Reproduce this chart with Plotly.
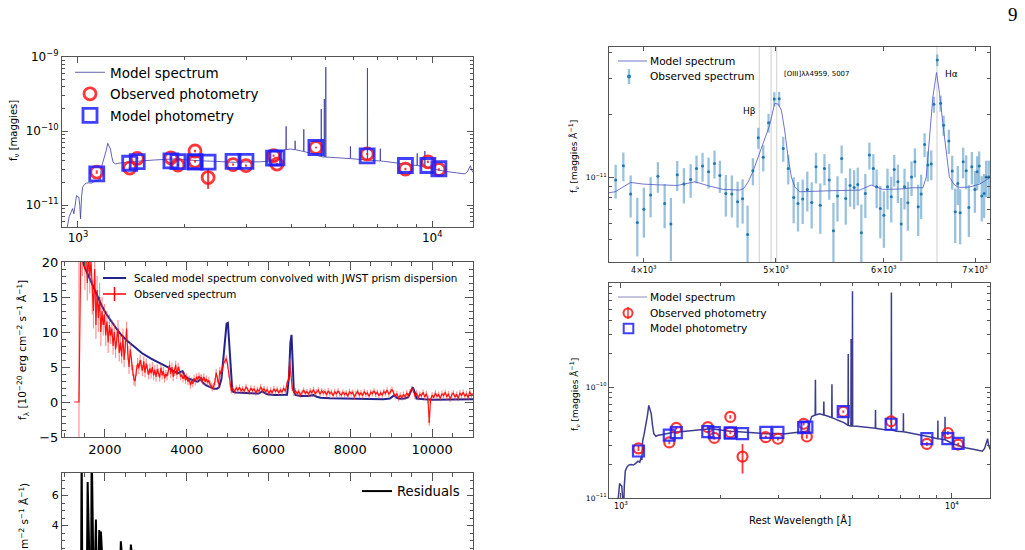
import math
import plotly.graph_objects as go

W, H = 1025, 550
FONT = "DejaVu Sans"
AX = "#555555"

# ---------------- data ----------------
# model spectrum (rest wavelength [A], f_nu [1e-11 maggies])
model_wave = [912, 933, 945, 958, 966, 974, 983, 991, 1000, 1006, 1012, 1017, 1024, 1031, 1043, 1055, 1072, 1090,
              1108, 1126, 1140, 1151, 1157, 1163, 1176, 1189, 1202, 1214, 1225, 1235, 1246, 1257, 1275, 1296, 1350,
              1443, 1540, 1643, 1750, 1870, 2000, 2128, 2270, 2423, 2590, 2757, 2950, 3139, 3280, 3421, 3550, 3650,
              3700, 3771, 3862, 3869, 3876, 3980, 4095, 4102, 4109, 4246, 4333, 4340, 4347, 4529, 4700, 4833, 4854,
              4861, 4868, 4952, 4959, 4966, 5000, 5007, 5014, 5156, 5500, 5869, 5876, 5883, 6200, 6556, 6563, 6570,
              6800, 7129, 7136, 7143, 7282, 7700, 8110, 8600, 9062, 9069, 9076, 9300, 9524, 9531, 9538, 10066, 10500,
              10973, 11705, 12000, 12356, 12550, 12700, 12818, 12900, 13040, 13200]
model_flux = [0.45, 0.506, 0.7, 0.847, 0.9, 0.764, 1.1, 1.35, 1.3, 1.28, 1.0, 0.655, 1.3, 1.75, 1.9, 1.98, 2.0, 1.98,
              2.05, 2.15, 2.1, 2.33, 2.2, 3.24, 3.8, 4.42, 5.5, 6.83, 6.3, 5.73, 4.5, 3.79, 3.6, 3.67, 3.75, 3.91,
              3.98, 4.07, 4.1, 4.2, 4.1, 3.99, 3.95, 3.91, 3.85, 3.79, 3.82, 3.79, 3.85, 3.91, 3.95, 3.99, 4.6, 5.43,
              5.6, 11.6, 5.6, 5.73, 5.6, 7.4, 5.6, 5.43, 5.3, 10.6, 5.3, 5.01, 4.8, 4.55, 4.5, 19.8, 4.5, 4.45, 27.0,
              4.45, 4.45, 73.0, 4.45, 4.42, 4.35, 4.25, 6.2, 4.25, 4.15, 4.1, 71.0, 4.1, 4.0, 3.95, 5.8, 3.95, 3.91,
              3.8, 3.67, 3.55, 3.42, 5.0, 3.42, 3.38, 3.35, 5.4, 3.35, 3.08, 2.95, 2.84, 2.73, 2.7, 2.64, 2.8, 3.2,
              3.42, 3.0, 2.77, 2.7]

# photometry (rest wavelength [A], f_nu [1e-11 maggies])
phot_wave = [1130, 1400, 1470, 1830, 1915, 2140, 2140, 2330, 2740, 2980, 3565, 3645, 4695, 6550, 8400, 9720, 10440]
phot_obs = [2.8, 3.17, 4.28, 4.35, 3.48, 5.38, 3.91, 2.36, 3.53, 3.42, 4.66, 3.58, 6.0, 4.91, 3.07, 3.85, 3.03]
phot_err = [0.15, 0.12, 0.15, 0.15, 0.12, 0.2, 0.15, 0.7, 0.12, 0.12, 0.15, 0.15, 0.15, 0.15, 0.12, 0.15, 0.12]
phot_model = [2.65, 3.68, 3.88, 3.96, 3.88, 3.85, 3.85, 3.8, 3.9, 3.9, 4.3, 4.35, 6.0, 4.62, 3.43, 3.43, 3.1]

# convolved model spectrum (f_lambda [1e-20 erg/cm2/s/A])
conv_wave = [1465, 1520, 1586, 1650, 1748, 1830, 1911, 2030, 2154, 2280, 2398, 2550, 2722, 2900, 3128, 3330, 3533,
             3650, 3777, 3840, 3899, 3950, 4020, 4150, 4264, 4310, 4345, 4390, 4467, 4560, 4669, 4740, 4791, 4850,
             4900, 4940, 4975, 5007, 5040, 5080, 5116, 5200, 5350, 5562, 5760, 5846, 5900, 5968, 6150, 6373, 6454,
             6500, 6535, 6563, 6590, 6620, 6660, 6779, 6950, 7103, 7180, 7266, 7500, 7996, 8400, 8807, 8970, 9069,
             9150, 9213, 9330, 9416, 9480, 9531, 9580, 9619, 9800, 10024, 10500, 11000]
conv_flux = [20.0, 19.0, 18.2, 17.3, 16.0, 14.9, 13.9, 12.6, 11.5, 10.5, 9.6, 8.7, 7.9, 7.0, 6.2, 5.6, 5.0,
             4.5, 4.1, 4.3, 4.4, 3.8, 3.4, 3.1, 2.9, 3.1, 3.3, 2.8, 2.4, 2.15, 1.9, 1.9, 2.1, 3.3,
             6.5, 9.8, 11.2, 11.3, 8.5, 4.0, 1.5, 1.35, 1.3, 1.2, 1.2, 1.5, 1.3, 1.1, 1.0, 0.96, 1.05,
             3.5, 8.5, 9.6, 6.0, 1.5, 1.0, 0.85, 0.85, 0.98, 0.75, 0.62, 0.55, 0.48, 0.42, 0.38, 0.5, 0.95,
             0.55, 0.45, 0.5, 0.7, 1.5, 2.1, 1.3, 0.5, 0.38, 0.33, 0.35, 0.38]

# observed prism spectrum (f_lambda [1e-20 erg/cm2/s/A])
spec_wave = [1250, 1366,
             1420, 1450, 1480, 1510, 1540, 1570, 1600, 1630, 1660, 1690, 1720, 1750, 1780, 1810, 1840, 1870, 1900,
             1930, 1960, 1990, 2020, 2050, 2080, 2110, 2140, 2170, 2200, 2230, 2260, 2290, 2320, 2350, 2380, 2410,
             2440, 2470, 2500, 2530, 2560, 2590, 2620, 2650, 2680, 2710, 2740, 2770, 2800, 2830, 2860, 2890, 2920,
             2950, 2980, 3010, 3040, 3070, 3100, 3130, 3160, 3190, 3220, 3250, 3280, 3310, 3340, 3370, 3400, 3430,
             3460, 3490, 3520, 3550, 3580, 3610, 3640, 3670, 3700, 3730, 3760, 3790, 3820, 3850, 3880, 3910, 3940,
             3970, 4000, 4030, 4060, 4090, 4120, 4150, 4180, 4210, 4240, 4270, 4300, 4330, 4360, 4390, 4420, 4450,
             4480, 4510, 4540, 4570, 4600, 4630, 4660, 4690, 4720, 4750, 4780, 4810, 4840, 4870, 4900, 4940, 4970,
             5000, 5030, 5060, 5090, 5130, 5170, 5210, 5250, 5290, 5330, 5370, 5410, 5450, 5490, 5530, 5570, 5610,
             5650, 5690, 5730, 5770, 5810, 5850, 5890, 5930, 5970, 6010, 6050, 6090, 6130, 6170, 6210, 6250, 6290,
             6330, 6370, 6410, 6450, 6490, 6520, 6550, 6580, 6620, 6660, 6700, 6740, 6780, 6820, 6860, 6900, 6940,
             6980, 7020, 7060, 7100, 7140, 7180, 7220, 7260, 7300, 7340, 7380, 7420, 7460, 7500, 7540, 7580, 7620,
             7660, 7700, 7740, 7780, 7820, 7860, 7900, 7940, 7980, 8020, 8060, 8100, 8140, 8180, 8220, 8260, 8300,
             8340, 8380, 8420, 8460, 8500, 8540, 8580, 8620, 8660, 8700, 8740, 8780, 8820, 8860, 8900, 8940, 8980,
             9020, 9060, 9100, 9140, 9180, 9220, 9260, 9300, 9340, 9380, 9420, 9460, 9500, 9540, 9580, 9620, 9660,
             9700, 9740, 9780, 9820, 9860, 9900, 9930, 9960, 10000, 10040, 10080, 10120, 10160, 10200, 10240, 10280,
             10320, 10360, 10400, 10440, 10480, 10520, 10560, 10600, 10640, 10680, 10720, 10760, 10800, 10840, 10880,
             10920, 10960, 11000]
spec_flux = [0.0, 0.0,
             26, 21, 24, 19, 23, 17, 21, 18, 20, 15, 13, 19, 11, 16, 12, 15, 10,
             13, 11, 12.5, 9.5, 11.5, 8.5, 11, 9.5, 10.5, 8, 10, 7.5, 9, 10.5, 7, 8.5, 6.5,
             9.5, 6, 8, 10.5, 7, 5, 7.5, 5.5, 4.5, 3.2, 3.0, 4.5, 5.5, 4.8, 6.0, 5.2, 4.5,
             5.8, 4.2, 5.5, 4.6, 3.9, 4.8, 4.1, 5.0, 3.8, 4.6, 3.6, 4.7, 4.2, 3.5, 4.9, 3.8, 4.4,
             3.4, 4.0, 3.7, 4.4, 5.3, 4.0, 5.0, 3.6, 4.3, 5.3, 3.9, 5.0, 4.5, 3.6, 3.9, 3.3, 3.8,
             3.1, 3.6, 2.9, 3.3, 2.4, 3.0, 2.6, 3.4, 2.9, 3.6, 3.2, 3.7, 3.4, 3.5, 3.0, 3.6, 2.9,
             3.3, 2.8, 3.1, 2.5, 2.3, 2.0, 2.2, 2.9, 4.2, 3.3, 2.5, 4.5, 3.9, 4.8, 5.5, 5.9, 6.2,
             5.3, 4.0, 2.5, 1.6, 1.9, 1.5, 2.0, 1.7, 2.1, 1.6, 1.9, 1.5, 2.2, 1.7, 1.4, 2.0, 1.6,
             1.9, 1.3, 1.8, 1.5, 2.2, 1.6, 1.9, 1.4, 1.8, 1.2, 1.7, 1.3, 1.9, 1.5, 1.8, 1.3, 1.7,
             1.4, 2.0, 1.5, 2.6, 3.3, 5.7, 4.0, 2.0, 1.3, 1.6, 1.2, 1.5, 1.0, 1.4, 1.7, 1.2, 1.5,
             1.1, 1.6, 1.3, 1.8, 1.2, 1.5, 1.7, 1.1, 1.6, 1.3, 1.5, 1.0, 1.6, 1.2, 1.4, 0.9, 1.5,
             1.1, 1.6, 1.2, 1.0, 1.4, 1.1, 1.3, 0.8, 1.5, 1.2, 1.4, 0.7, 1.2, 1.5, 1.0, 1.3, 0.9,
             1.5, 1.1, 1.3, 0.8, 1.4, 1.2, 1.6, 1.1, 1.4, 0.9, 1.3, 1.0, 1.5, 1.2, 1.7, 1.1, 1.5,
             1.8, 1.3, 0.8, 1.2, 0.5, 1.0, 0.6, 1.1, 0.7, 1.3, 0.9, 1.4, 1.9, 1.7, 0.8, 1.3, 0.6,
             1.1, 0.9, 1.4, 0.7, 1.2, 0.3, -3.0, 0.2, 1.0, 0.6, 1.3, 0.8, 1.1, 0.5, 1.2, 0.9,
             1.4, 0.7, 1.2, 0.4, 1.0, 1.3, 0.7, 1.1, 0.5, 1.3, 0.9, 1.4, 0.8, 1.2, 0.6,
             1.5, 0.9, 1.2]
spec_err = [0.0, 40.0,
            3, 3, 3, 3, 3, 2.5, 2.5, 2.5, 2.5, 2.5, 2.5, 2.5, 2, 2, 2, 2, 2,
            2, 1.5, 1.5, 1.5, 1.5, 1.5, 1.5, 1.2, 1.2, 1.2, 1.2, 1.2, 1.2, 1.2, 1.2, 1.2, 1,
            1, 1, 1, 1, 1, 1, 1, 1, 0.8, 0.8, 0.8, 0.8, 0.8, 0.8, 0.8, 0.8, 0.8,
            0.7, 0.7, 0.7, 0.7, 0.7, 0.7, 0.7, 0.7, 0.7, 0.7, 0.7, 0.7, 0.6, 0.6, 0.6, 0.6, 0.6,
            0.6, 0.6, 0.6, 0.6, 0.6, 0.6, 0.6, 0.6, 0.6, 0.6, 0.6, 0.6, 0.6, 0.5, 0.5, 0.5, 0.5,
            0.5, 0.5, 0.5, 0.5, 0.5, 0.5, 0.5, 0.5, 0.5, 0.5, 0.5, 0.5, 0.5, 0.5, 0.5, 0.5, 0.5,
            0.5, 0.5, 0.5, 0.5, 0.5, 0.5, 0.5, 0.5, 0.5, 0.5, 0.5, 0.5, 0.5, 0.5, 0.5, 0.5, 0.5,
            0.5, 0.5, 0.4, 0.4, 0.4, 0.4, 0.4, 0.4, 0.4, 0.4, 0.4, 0.4, 0.4, 0.4, 0.4, 0.4, 0.4,
            0.4, 0.4, 0.4, 0.4, 0.4, 0.4, 0.4, 0.4, 0.4, 0.4, 0.4, 0.4, 0.4, 0.4, 0.4, 0.4, 0.4,
            0.4, 0.4, 0.4, 0.4, 0.4, 0.5, 0.4, 0.4, 0.4, 0.4, 0.4, 0.4, 0.4, 0.4, 0.4, 0.4,
            0.4, 0.4, 0.4, 0.4, 0.4, 0.4, 0.4, 0.4, 0.4, 0.4, 0.4, 0.4, 0.4, 0.4, 0.4, 0.4, 0.4,
            0.4, 0.4, 0.4, 0.4, 0.4, 0.4, 0.4, 0.4, 0.4, 0.4, 0.4, 0.4, 0.4, 0.4, 0.4, 0.4, 0.4,
            0.4, 0.4, 0.4, 0.4, 0.4, 0.4, 0.4, 0.4, 0.4, 0.4, 0.4, 0.4, 0.4, 0.4, 0.4, 0.4, 0.4,
            0.4, 0.4, 0.4, 0.4, 0.4, 0.4, 0.4, 0.4, 0.4, 0.4, 0.4, 0.4, 0.4, 0.4, 0.4, 0.4, 0.4,
            0.4, 0.4, 0.4, 0.4, 0.4, 0.4, 0.6, 0.4, 0.4, 0.4, 0.4, 0.4, 0.4, 0.4, 0.4, 0.4,
            0.4, 0.4, 0.4, 0.4, 0.4, 0.4, 0.4, 0.4, 0.4, 0.4, 0.4, 0.4, 0.4, 0.4, 0.4,
            0.4, 0.4, 0.4]

# residuals
res_wave = [1250, 1366, 1400, 1420, 1432, 1445, 1480, 1520, 1560, 1578, 1595, 1630, 1665, 1676, 1690, 1720, 1760,
            1780, 1795, 1830, 1850, 1861, 1880, 1902, 1920, 1960, 2020, 2100, 2180, 2260, 2340, 2375, 2390, 2405,
            2450, 2520, 2600, 2620, 2634, 2650, 2720, 2850, 3000, 3200, 3500, 3800, 4200, 4600, 4900, 5000, 5100,
            5500, 6000, 6500, 6563, 6600, 7000, 8000, 9000, 9930, 10000, 11000]
res_val = [0.0, 0.0, 1.2, 2.0, 9.5, 1.5, 0.8, 1.4, 1.0, 6.9, 1.2, 0.6, 1.5, 9.5, 1.3, 0.7, 1.8,
           4.4, 1.5, 1.1, 2.0, 3.7, 2.2, 3.6, 1.0, 0.6, 1.3, 0.9, 1.2, 0.8, 1.0, 1.4, 2.95, 1.3,
           0.7, 1.1, 0.9, 1.0, 2.73, 1.0, 0.6, 0.8, 0.5, 0.7, 0.4, 0.6, 0.3, 0.5, 0.2, -1.0, 0.3,
           0.2, 0.1, 0.3, -1.5, 0.2, 0.1, 0.1, 0.1, -2.0, 0.1, 0.1]

# zoomed observed spectrum (rest wavelength [A], f_nu [1e-12 maggies/A])
zoom_model_wave = [3767, 3810, 3912, 3996, 4087, 4232, 4361, 4460, 4574, 4704, 4736, 4771, 4809, 4859, 4906, 4947,
                   4976, 4990, 5018, 5046, 5074, 5103, 5132, 5161, 5204, 5323, 5474, 5758, 5873, 5988, 6159, 6299,
                   6409, 6445, 6481, 6518, 6558, 6591, 6628, 6665, 6702, 6761, 6817, 6934, 7053, 7132, 7180]
zoom_model_flux = [8.40, 8.49, 9.42, 9.25, 9.18, 9.11, 9.49, 9.08, 8.72, 8.65, 8.82, 9.49, 10.61, 12.77, 15.09, 17.8,
                   21.07, 22.7, 22.5, 21.07, 16.87, 12.54, 10.0, 8.98, 8.49, 8.56, 8.59, 8.65, 9.15, 8.72, 8.75, 8.88,
                   8.88, 10.0, 15.09, 24.4, 32.0, 25.4, 18.2, 13.0, 10.0, 9.15, 8.91, 8.95, 9.25, 9.67, 10.0]
zoom_obs_wave = [3814, 3864, 3912, 3956, 4000, 4046, 4096, 4143, 4187, 4232, 4280, 4329, 4372, 4417, 4462, 4507,
                 4548, 4594, 4641, 4686, 4726, 4766, 4809, 4853, 4894, 4938, 4986, 5027, 5062, 5105, 5152, 5190,
                 5231, 5272, 5311, 5350, 5389, 5427, 5471, 5510, 5548, 5587, 5626, 5667, 5706, 5741, 5776, 5815,
                 5855, 5894, 5927, 5964, 6000, 6037, 6075, 6106, 6144, 6178, 6213, 6248, 6287, 6323, 6358, 6390,
                 6427, 6462, 6500, 6529, 6566, 6603, 6637, 6696, 6734, 6768, 6798, 6825, 6860, 6895, 6926, 6961,
                 6997, 7024, 7048, 7079, 7107, 7132, 7163]
zoom_obs_flux = [9.67, 11.34, 8.28, 6.04, 7.00, 8.19, 10.1, 7.46, 5.93, 10.26, 9.25, 9.74, 11.01, 11.30, 10.61, 11.64,
                 10.19, 8.34, 8.28, 7.60, 7.86, 5.28, 10.73, 15.49, 12.45, 18.30, 23.8, 23.9, 13.75, 11.01, 7.98, 7.46,
                 7.83, 8.72, 7.54, 11.22, 7.32, 11.01, 9.67, 5.50, 8.10, 12.31, 7.89, 9.1, 8.9, 9.2, 5.38, 8.34,
                 12.77, 11.01, 8.98, 7.06, 6.55, 8.98, 8.04, 10.89, 9.49, 5.93, 8.98, 7.51, 10.0, 11.86, 7.19, 8.28,
                 14.38, 11.43, 11.56, 22.44, 36.7, 22.7, 17.8, 14.93, 10.69, 6.80, 9.32, 6.73, 11.86, 10.73, 7.14, 11.22,
                 8.72, 10.61, 11.30, 8.10, 8.34, 10.0, 10.0]
zoom_obs_err = [1.8, 1.8, 1.9, 1.9, 1.9, 1.8, 1.7, 1.8, 2.0, 1.7, 1.8, 1.8, 1.7, 1.8, 1.8, 1.8,
                1.8, 1.9, 1.9, 1.9, 1.9, 2.0, 1.6, 1.8, 1.8, 1.9, 1.9, 1.9, 1.9, 1.8, 2.0, 2.0,
                1.9, 1.9, 1.9, 1.9, 2.0, 1.9, 1.9, 2.0, 2.0, 1.9, 2.0, 1.9, 1.9, 1.9, 2.0, 2.0,
                1.9, 1.9, 1.9, 2.0, 2.0, 2.0, 2.0, 1.9, 2.0, 2.0, 2.0, 2.0, 1.9, 1.9, 2.0, 2.0,
                1.9, 1.9, 1.9, 2.0, 2.4, 2.0, 2.0, 2.0, 2.0, 2.0, 2.0, 2.0, 2.0, 2.0, 2.0, 2.0,
                2.0, 2.0, 2.0, 2.0, 2.0, 2.0, 2.0]
line_waves = [4861, 4959, 5007, 6563]

SCALE_PHOT = 1e-11
SCALE_ZOOM = 1e-12


def lg(v):
    return math.log10(v)


def dom_x(a, b):
    return [a / W, b / W]


def dom_y(top, bot):
    return [max(0.0, 1 - bot / H), 1 - top / H]


def axis(**kw):
    base = dict(showline=True, linecolor=AX, linewidth=1, mirror="allticks", ticks="inside",
                tickcolor=AX, tickwidth=1, ticklen=6, showgrid=False, zeroline=False,
                tickfont=dict(family=FONT, size=11, color="black"))
    base.update(kw)
    return base


def minor(vals=None, dtick=None, ln=3):
    m = dict(ticks="inside", ticklen=ln, tickcolor=AX, tickwidth=1, showgrid=False)
    if vals is not None:
        m["tickvals"] = vals
    if dtick is not None:
        m["dtick"] = dtick
    return m


fig = go.Figure()

RED = "rgba(255,20,20,0.85)"
BLUE = "rgba(30,30,255,0.85)"
NAVY = "#23238c"
ZOOM_MODEL = "rgba(100,100,205,0.9)"
ZOOM_OBS = "rgba(31,119,180,0.45)"
E_LEG = "rgba(60,60,150,0.4)"

# ---- Panel A ----
fig.add_trace(go.Scatter(x=model_wave, y=[v * SCALE_PHOT for v in model_flux], mode="lines",
                         line=dict(color="rgba(60,60,160,0.8)", width=1), name="Model spectrum",
                         xaxis="x", yaxis="y", legend="legend", legendgroup="a1"))
fig.add_trace(go.Scatter(x=phot_wave, y=[v * SCALE_PHOT for v in phot_obs], mode="markers",
                         marker=dict(symbol="circle-open", size=12, color=RED, line=dict(width=2.8)),
                         error_y=dict(type="data", array=[v * SCALE_PHOT for v in phot_err], color=RED,
                                      thickness=2, width=0),
                         name="Observed photometry", xaxis="x", yaxis="y", legend="legend", legendgroup="a2"))
fig.add_trace(go.Scatter(x=phot_wave, y=[v * SCALE_PHOT for v in phot_model], mode="markers",
                         marker=dict(symbol="square-open", size=14, color=BLUE, line=dict(width=2.8)),
                         name="Model photometry", xaxis="x", yaxis="y", legend="legend", legendgroup="a3"))

# ---- Panel B ----
fig.add_trace(go.Scatter(x=conv_wave, y=conv_flux, mode="lines", line=dict(color=NAVY, width=2),
                         name="Scaled model spectrum convolved with JWST prism dispersion",
                         showlegend=False, xaxis="x2", yaxis="y2"))
fig.add_trace(go.Scatter(x=spec_wave, y=spec_flux, mode="lines", line=dict(color="rgba(255,0,0,0.9)", width=1.2),
                         error_y=dict(type="data", array=spec_err, color="rgba(255,60,60,0.55)", thickness=1.2,
                                      width=0),
                         name="Observed spectrum", showlegend=False, xaxis="x2", yaxis="y2"))

# ---- Panel C ----
fig.add_trace(go.Scatter(x=res_wave, y=res_val, mode="lines", line=dict(color="black", width=2),
                         name="Residuals", xaxis="x3", yaxis="y3", legend="legend3"))

# ---- Panel D ----
for lw in line_waves:
    fig.add_trace(go.Scatter(x=[lw, lw], y=[1e-13, 1e-9], mode="lines",
                             line=dict(color="rgba(175,175,175,0.75)", width=0.8),
                             showlegend=False, hoverinfo="skip", xaxis="x4", yaxis="y4"))
fig.add_trace(go.Scatter(x=zoom_model_wave, y=[v * SCALE_ZOOM for v in zoom_model_flux], mode="lines",
                         line=dict(color=ZOOM_MODEL, width=1), name="Model spectrum", showlegend=False,
                         xaxis="x4", yaxis="y4"))
fig.add_trace(go.Scatter(x=zoom_obs_wave, y=[v * SCALE_ZOOM for v in zoom_obs_flux], mode="markers",
                         marker=dict(size=3, color="#1f77b4"),
                         error_y=dict(type="data", array=[v * SCALE_ZOOM for v in zoom_obs_err],
                                      color=ZOOM_OBS, thickness=2.3, width=0),
                         name="Observed spectrum", showlegend=False, xaxis="x4", yaxis="y4"))

# ---- Panel E ----
fig.add_trace(go.Scatter(x=model_wave, y=[v * SCALE_PHOT for v in model_flux], mode="lines",
                         line=dict(color="rgba(40,40,130,0.9)", width=1.5), showlegend=False,
                         name="Model spectrum", xaxis="x5", yaxis="y5"))
fig.add_trace(go.Scatter(x=phot_wave, y=[v * SCALE_PHOT for v in phot_obs], mode="markers",
                         marker=dict(symbol="circle-open", size=10, color=RED, line=dict(width=2.2)),
                         error_y=dict(type="data", array=[v * SCALE_PHOT for v in phot_err], color=RED,
                                      thickness=1.8, width=0),
                         name="Observed photometry", showlegend=False, xaxis="x5", yaxis="y5"))
fig.add_trace(go.Scatter(x=phot_wave, y=[v * SCALE_PHOT for v in phot_model], mode="markers",
                         marker=dict(symbol="square-open", size=11, color=BLUE, line=dict(width=2.2)),
                         name="Model photometry", showlegend=False, xaxis="x5", yaxis="y5"))

# ---------------- axes ----------------
decA_minor_x = [2000, 3000, 4000, 5000, 6000, 7000, 8000, 9000]
decA_minor_y = [6e-12, 7e-12, 8e-12, 9e-12, 2e-11, 3e-11, 4e-11, 5e-11, 6e-11, 7e-11, 8e-11, 9e-11,
                2e-10, 3e-10, 4e-10, 5e-10, 6e-10, 7e-10, 8e-10, 9e-10]
decE_minor_y = [2e-11, 3e-11, 4e-11, 5e-11, 6e-11, 7e-11, 8e-11, 9e-11,
                2e-10, 3e-10, 4e-10, 5e-10, 6e-10, 7e-10, 8e-10]
D_minor_y = [5e-12, 6e-12, 7e-12, 8e-12, 9e-12, 2e-11, 3e-11, 4e-11]

small = dict(family=FONT, size=8, color="black")

fig.update_layout(
    width=W, height=H, margin=dict(l=0, r=0, t=0, b=0, autoexpand=False),
    paper_bgcolor="white", plot_bgcolor="white",
    font=dict(family=FONT, color="black"),
    xaxis=axis(type="log", domain=dom_x(62, 473), anchor="y", range=[2.955, 4.115],
               tickvals=[1e3, 1e4], ticktext=["10<sup>3</sup>", "10<sup>4</sup>"],
               tickfont=dict(family=FONT, size=12, color="black"), minor=minor(decA_minor_x)),
    yaxis=axis(type="log", domain=dom_y(57, 227), anchor="x", range=[-11.295, -9.0],
               tickvals=[1e-11, 1e-10, 1e-9],
               ticktext=["10<sup>−11</sup>", "10<sup>−10</sup>", "10<sup>−9</sup>"],
               tickfont=dict(family=FONT, size=12, color="black"), minor=minor(decA_minor_y)),
    xaxis2=axis(domain=dom_x(62, 473), anchor="y2", range=[951, 11000], tick0=0, dtick=2000, tickformat="d",
                ticklen=8, tickfont=dict(family=FONT, size=13, color="black"), minor=minor(dtick=500, ln=4)),
    yaxis2=axis(domain=dom_y(262, 437), anchor="x2", range=[-5, 20], tick0=0, dtick=5,
                ticklen=8, tickfont=dict(family=FONT, size=13, color="black"), minor=minor(dtick=1, ln=4)),
    xaxis3=dict(domain=dom_x(62, 473), anchor="y3", range=[951, 11000], side="top", showline=True,
                linecolor=AX, linewidth=1, ticks="inside", tickcolor=AX, ticklen=8, tick0=0, dtick=2000,
                showticklabels=False, showgrid=False, zeroline=False, minor=minor(dtick=500, ln=4)),
    yaxis3=axis(domain=dom_y(473, 550), anchor="x3", range=[2.37, 7.5], tick0=0, dtick=2,
                ticklen=6, tickfont=dict(family=FONT, size=11, color="black"), minor=minor(dtick=0.5, ln=3)),
    xaxis4=axis(type="log", domain=dom_x(609, 990), anchor="y4", range=[3.5765, 3.856],
                tickvals=[4000, 5000, 6000, 7000],
                ticktext=["4×10<sup>3</sup>", "5×10<sup>3</sup>", "6×10<sup>3</sup>", "7×10<sup>3</sup>"],
                ticklen=4, tickfont=small),
    yaxis4=axis(type="log", domain=dom_y(47, 262), anchor="x4", range=[-11.41, -10.372],
                tickvals=[1e-11], ticktext=["10<sup>−11</sup>"], ticklen=5,
                tickfont=dict(family=FONT, size=7.5, color="black"), minor=minor(D_minor_y, ln=3)),
    xaxis5=axis(type="log", domain=dom_x(609, 990), anchor="y5", range=[2.964, 4.115],
                tickvals=[1e3, 1e4], ticktext=["10<sup>3</sup>", "10<sup>4</sup>"], ticklen=5,
                tickfont=small, minor=minor(decA_minor_x, ln=3)),
    yaxis5=axis(type="log", domain=dom_y(283, 498), anchor="x5", range=[-11.0, -9.063],
                tickvals=[1e-11, 1e-10], ticktext=["10<sup>−11</sup>", "10<sup>−10</sup>"], ticklen=5,
                tickfont=dict(family=FONT, size=7.5, color="black"), minor=minor(decE_minor_y, ln=3)),
)

leg_common = dict(bgcolor="rgba(0,0,0,0)", borderwidth=0, xanchor="left", yanchor="top",
                  traceorder="grouped", itemwidth=30)
fig.update_layout(
    legend=dict(leg_common, x=70 / W, y=1 - 57 / H, font=dict(family=FONT, size=13.5, color="black"),
                tracegroupgap=1),
    legend3=dict(leg_common, x=357 / W, y=1 - 476 / H, font=dict(family=FONT, size=13.2, color="black")),
)

# ---------------- legend keys drawn as layout decorations (panels B, D, E) ----------------
shapes = []
ann = []


def px_line(x0, y0, x1, y1, color, width):
    shapes.append(dict(type="line", xref="paper", yref="paper", x0=x0 / W, x1=x1 / W,
                       y0=1 - y0 / H, y1=1 - y1 / H, line=dict(color=color, width=width)))


def px_box(kind, cx, cy, r, color, width):
    shapes.append(dict(type=kind, xref="paper", yref="paper", x0=(cx - r) / W, x1=(cx + r) / W,
                       y0=1 - (cy + r) / H, y1=1 - (cy - r) / H, line=dict(color=color, width=width)))


def text(t, x, y, size, angle=0, xanchor="center", family=FONT):
    ann.append(dict(text=t, x=x / W, y=1 - y / H, xref="paper", yref="paper", showarrow=False,
                    textangle=angle, font=dict(family=family, size=size, color="black"),
                    xanchor=xanchor, yanchor="middle"))


# B legend
px_line(103, 278, 126, 278, NAVY, 2)
text("Scaled model spectrum convolved with JWST prism dispersion", 132, 278, 10.4, xanchor="left")
px_line(103, 294, 126, 294, "red", 1.5)
px_line(114.5, 287, 114.5, 301, "red", 1.5)
text("Observed spectrum", 132, 294, 10.4, xanchor="left")

# D legend
px_line(618, 61, 647, 61, ZOOM_MODEL, 1)
text("Model spectrum", 648, 61, 10.6, xanchor="left")
px_line(629, 69, 629, 84, ZOOM_OBS, 2.5)
px_box("circle", 629, 76.5, 1.2, "#1f77b4", 1.5)
text("Observed spectrum", 648, 76, 10.6, xanchor="left")

# E legend
px_line(618, 297, 647, 297, E_LEG, 1.5)
text("Model spectrum", 648, 297, 10.6, xanchor="left")
px_box("circle", 628, 313, 4.5, RED, 2)
px_line(628, 307, 628, 319, RED, 1.5)
text("Observed photometry", 648, 313, 10.6, xanchor="left")
px_box("rect", 628.5, 328.5, 4.8, BLUE, 2)
text("Model photometry", 648, 328, 10.6, xanchor="left")

# axis labels
text("f<sub>ν</sub> [maggies]", 14, 131, 10, -90)
text("f<sub>λ</sub> [10<sup>−20</sup> erg cm<sup>−2</sup> s<sup>−1</sup> Å<sup>−1</sup>]", 23, 350, 10.5, -90)
text("m<sup>−2</sup> s<sup>−1</sup> Å<sup>−1</sup>)", 23, 516, 10.5, -90)
text("f<sub>ν</sub> [maggies Å<sup>−1</sup>]", 574, 157, 9, -90)
text("f<sub>ν</sub> [maggies Å<sup>−1</sup>]", 574, 395, 9, -90)
text("Rest Wavelength [Å]", 800, 520, 10)
text("9", 1013, 14, 19, family="Liberation Serif")

# line labels in zoom panel
ann.append(dict(text="Hβ", x=lg(4784), y=lg(2.08e-11), xref="x4", yref="y4", showarrow=False,
                font=dict(family=FONT, size=9, color="black")))
ann.append(dict(text="[OIII]λλ4959, 5007", x=lg(5050), y=lg(3.15e-11), xref="x4", yref="y4",
                showarrow=False, xanchor="left", font=dict(family=FONT, size=7, color="black")))
ann.append(dict(text="Hα", x=lg(6627), y=lg(3.15e-11), xref="x4", yref="y4", showarrow=False,
                xanchor="left", font=dict(family=FONT, size=9, color="black")))

fig.update_layout(annotations=ann, shapes=shapes)

fig.write_html("out.html")
